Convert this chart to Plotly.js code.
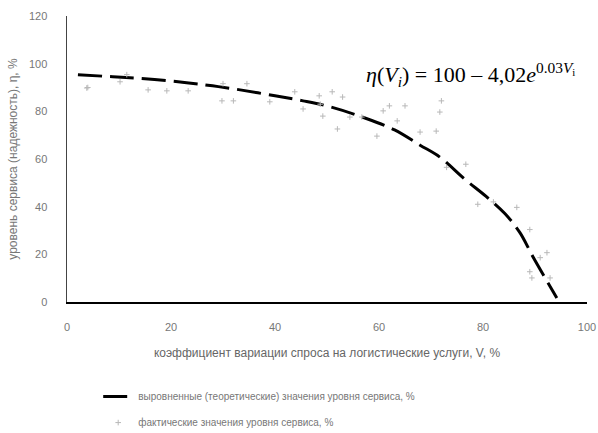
<!DOCTYPE html>
<html>
<head>
<meta charset="utf-8">
<script src="https://cdn.plot.ly/plotly-3.0.1.min.js"></script>
<style>html,body{margin:0;padding:0;background:#fff;}#chart{width:598px;height:433px;}</style>
</head>
<body>
<div id="chart"></div>
<script>
// Trend (theoretical) curve
const trendV   = [2.1, 8.8, 15, 23, 28, 33.3, 40, 45.4, 50.6, 57.3, 63, 67.9, 71.7, 76.5, 80.6, 84.2, 87.1, 89.6, 94.2];
const trendEta = [95.4, 94.5, 93.7, 92, 90.7, 89, 86.5, 84.4, 81.9, 77.2, 72.2, 65.8, 60.8, 51.5, 44.3, 37.1, 29.1, 19, 1.7];

const factV   = [3.8, 4, 10.2, 11.5, 15.6, 19.2, 23.3, 29.8, 30, 32, 34.6, 39, 43.8, 45.4, 48.5, 48.7, 49.2, 51, 52, 53, 54.4, 56.7, 59.6, 60.8, 62, 63.5, 65, 67.9, 71, 71.7, 72, 73, 76.7, 79, 82, 86.5, 89, 89, 89.4, 91, 92.3, 92.9];
const factEta = [89.8, 90, 92.4, 95.4, 89, 88.6, 88.6, 84.4, 91.6, 84.4, 91.6, 84, 88.2, 81, 86.5, 83, 78, 88.2, 72.6, 86, 77.6, 77.6, 69.6, 80.2, 82.3, 76, 82.3, 71.3, 71.7, 79.7, 84.4, 56.5, 57.8, 41, 42, 39.7, 30.4, 12.7, 10.1, 18.6, 20.7, 10.1];

const xTicks = [0, 20, 40, 60, 80, 100];
const yTicks = [0, 20, 40, 60, 80, 100, 120];

const labels = {
  trend: 'выровненные (теоретические) значения уровня сервиса, %',
  fact: 'фактические значения уровня сервиса, %',
  xTitle: 'коэффициент вариации спроса на логистические услуги, V, %',
  yTitle: 'уровень сервиса (надежность), η, %',
  formula: '<i>η</i>(<i>V<sub>i</sub></i>) = 100 – 4,02<i>e</i><sup>0.03<i>V</i><sub>i</sub></sup>'
};

const traces = [
  {
    x: trendV, y: trendEta, type: 'scatter', mode: 'lines', name: labels.trend,
    legendgroup: 'a',
    line: {color: '#000', width: 3, shape: 'spline', dash: '24px,8px'}
  },
  {
    x: factV, y: factEta, type: 'scatter', mode: 'markers', name: labels.fact,
    legendgroup: 'b',
    marker: {color: '#b8b8b8', size: 4, symbol: 'cross-thin-open', line: {color: '#b8b8b8', width: 1}}
  }
];

const layout = {
  width: 598, height: 433,
  margin: {l: 67, r: 11, t: 16, b: 131, autoexpand: false},
  paper_bgcolor: '#fff', plot_bgcolor: '#fff',
  font: {family: 'Liberation Sans, Arial, sans-serif', color: '#666', size: 11},
  showlegend: true,
  legend: {
    x: 0.06, y: -0.28, xanchor: 'left', yanchor: 'top',
    orientation: 'v', tracegroupgap: 7,
    font: {size: 10, color: '#777'}, bgcolor: 'rgba(0,0,0,0)'
  },
  xaxis: {
    range: [0, 100], tickvals: xTicks, ticktext: xTicks.map(String),
    automargin: false,
    showgrid: false, zeroline: false, showline: true, linecolor: '#000', linewidth: 2,
    ticks: '', ticklabelstandoff: 14, tickfont: {size: 11, color: '#777'},
    title: {text: labels.xTitle, font: {size: 12, color: '#666'}, standoff: 16}
  },
  yaxis: {
    range: [0, 120], tickvals: yTicks, ticktext: yTicks.map(String),
    automargin: false,
    showgrid: false, zeroline: false, showline: true, linecolor: '#444', linewidth: 1.5,
    ticks: '', ticklabelstandoff: 16, tickfont: {size: 11, color: '#777'},
    title: {text: labels.yTitle, font: {size: 12, color: '#777'}, standoff: 8}
  },
  annotations: [{
    x: 77.5, y: 95.5, xref: 'x', yref: 'y', showarrow: false,
    text: labels.formula,
    font: {family: 'Liberation Serif, Times New Roman, serif', size: 22, color: '#000'}
  }]
};

Plotly.newPlot('chart', traces, layout, {displayModeBar: false, staticPlot: true});
</script>
</body>
</html>
